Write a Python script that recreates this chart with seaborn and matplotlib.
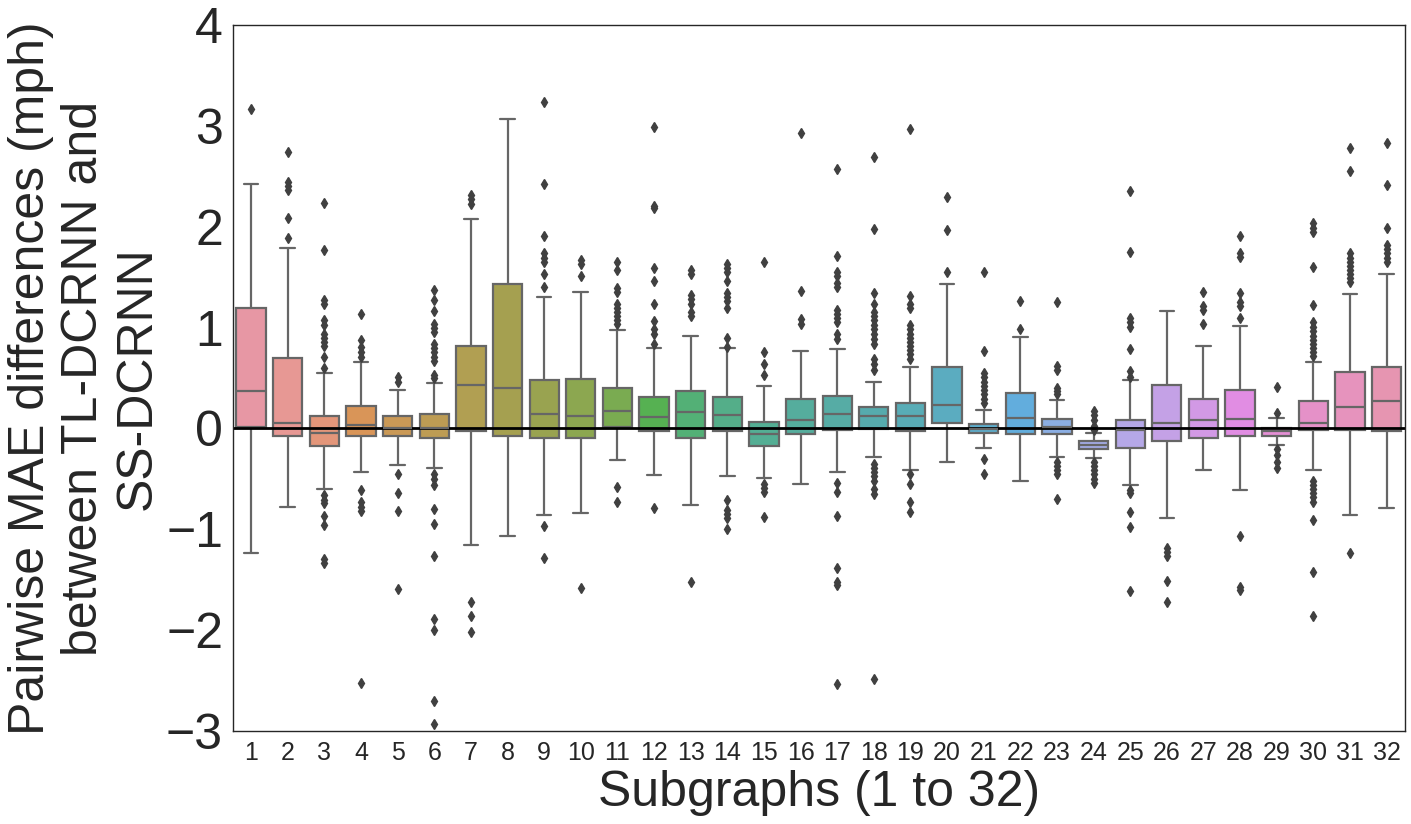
import matplotlib
matplotlib.use("Agg")
import matplotlib.pyplot as plt
import numpy as np
import pandas as pd
import seaborn as sns

# box statistics, one entry per subgraph 1..32
subgraphs = [str(i) for i in range(1, 33)]
q1 = [0.013, -0.071, -0.179, -0.079, -0.079, -0.092, -0.03, -0.071,
      -0.092, -0.092, 0.017, -0.029, -0.092, -0.021, -0.171, -0.058,
      -0.017, -0.008, -0.025, 0.058, -0.05, -0.058, -0.06, -0.2,
      -0.192, -0.129, -0.092, -0.079, -0.071, -0.017, -0.02, -0.021]
medians = [0.367, 0.058, -0.046, 0.029, 0.0, 0.008, 0.43, 0.396,
           0.138, 0.125, 0.175, 0.117, 0.167, 0.13, -0.058, 0.083,
           0.146, 0.125, 0.121, 0.229, -0.008, 0.108, 0.017, -0.167,
           -0.017, 0.058, 0.083, 0.092, -0.025, 0.058, 0.209, 0.275]
q3 = [1.19, 0.70, 0.125, 0.225, 0.125, 0.138, 0.82, 1.435,
      0.476, 0.49, 0.405, 0.309, 0.375, 0.309, 0.067, 0.296,
      0.321, 0.209, 0.254, 0.613, 0.046, 0.355, 0.095, -0.129,
      0.079, 0.43, 0.288, 0.384, 0.008, 0.267, 0.56, 0.613]
whisker_low = [-1.24, -0.776, -0.605, -0.43, -0.359, -0.392, -1.16, -1.07,
               -0.86, -0.834, -0.309, -0.46, -0.755, -0.476, -0.488, -0.55,
               -0.43, -0.288, -0.417, -0.338, -0.19, -0.517, -0.285, -0.296,
               -0.56, -0.893, -0.417, -0.613, -0.167, -0.409, -0.86, -0.793]
whisker_high = [2.42, 1.79, 0.547, 0.663, 0.384, 0.455, 2.08, 3.07,
                1.306, 1.35, 0.98, 0.80, 0.92, 0.80, 0.42, 0.77,
                0.79, 0.463, 0.613, 1.435, 0.18, 0.91, 0.285, -0.042,
                0.476, 1.168, 0.82, 1.018, 0.108, 0.663, 1.335, 1.535]
outliers = [
    [3.17],
    [2.74, 2.44, 2.40, 2.36, 2.09, 1.89],
    [2.23, 1.77, 1.27, 1.23, 1.07, 1.03, 0.94, 0.90, 0.86, 0.82, 0.71, 0.60,
     -0.66, -0.71, -0.74, -0.87, -0.96, -1.29, -1.33],
    [1.13, 0.88, 0.805, 0.76, 0.71, -0.61, -0.73, -0.78, -0.82, -2.52],
    [0.505, 0.463, -0.455, -0.64, -0.82, -1.59],
    [1.37, 1.27, 1.16, 1.04, 1.00, 0.955, 0.84, 0.80, 0.755, 0.71, 0.67, 0.525, 0.496,
     -0.45, -0.50, -0.56, -0.80, -0.95, -1.27, -1.89, -2.0, -2.70, -2.93],
    [2.31, 2.27, 2.22, -1.72, -1.86, -2.02],
    [],
    [3.24, 2.42, 1.91, 1.74, 1.69, 1.65, 1.53, 1.40, -0.97, -1.285],
    [1.67, 1.63, 1.51, -1.58],
    [1.65, 1.57, 1.39, 1.35, 1.235, 1.19, 1.15, 1.11, 1.07, 1.04, -0.58, -0.726],
    [2.99, 2.21, 2.19, 1.59, 1.46, 1.23, 1.06, 0.985, 0.94, 0.84, -0.79],
    [1.57, 1.53, 1.32, 1.28, 1.235, 1.15, 1.11, -1.52],
    [1.63, 1.59, 1.55, 1.46, 1.34, 1.30, 1.26, 1.19, 0.90, 0.81,
     -0.705, -0.81, -0.85, -0.89, -1.0],
    [1.65, 0.755, 0.64, 0.534, -0.55, -0.59, -0.63, -0.876],
    [2.93, 1.36, 1.08, 1.04],
    [2.57, 1.71, 1.55, 1.51, 1.44, 1.40, 1.17, 1.13, 1.09, 1.05, 0.94, 0.89,
     -0.54, -0.634, -0.868, -1.385, -1.52, -1.55, -2.53],
    [2.695, 1.98, 1.34, 1.235, 1.15, 1.11, 1.07, 1.03, 0.985, 0.94, 0.89, 0.84, 0.69, 0.64, 0.575,
     -0.35, -0.39, -0.434, -0.476, -0.517, -0.60, -0.65, -2.48],
    [2.97, 1.31, 1.235, 1.19, 1.03, 0.985, 0.94, 0.90, 0.86, 0.82, 0.776, 0.734, 0.69,
     -0.45, -0.547, -0.726, -0.83],
    [2.29, 1.97, 1.55],
    [1.55, 0.77, 0.547, 0.505, 0.463, 0.42, 0.38, 0.338, 0.296, 0.254, -0.30, -0.45],
    [1.26, 0.985],
    [1.25, 0.617, 0.576, 0.40, 0.37, 0.34, -0.33, -0.37, -0.41, -0.455, -0.70],
    [0.171, 0.129, 0.088, 0.025, -0.017, -0.33, -0.37, -0.41, -0.455, -0.50, -0.54],
    [2.35, 1.75, 1.09, 1.05, 1.005, 0.79, 0.567, 0.505, -0.61, -0.64, -0.83, -0.976, -1.61],
    [-1.185, -1.23, -1.27, -1.51, -1.72],
    [1.35, 1.21, 1.17, 1.035],
    [1.91, 1.735, 1.70, 1.34, 1.255, 1.21, 1.09, -1.07, -1.57, -1.60],
    [0.41, 0.15, -0.204, -0.267, -0.33, -0.39],
    [2.036, 1.986, 1.944, 1.60, 1.22, 1.05, 1.005, 0.964, 0.92, 0.88, 0.84, 0.80, 0.755, 0.713,
     -0.517, -0.56, -0.60, -0.64, -0.684, -0.726, -0.91, -1.42, -1.86],
    [2.78, 2.55, 1.74, 1.69, 1.65, 1.61, 1.57, 1.53, 1.49, 1.45, -1.235],
    [2.83, 2.415, 1.986, 1.82, 1.78, 1.735, 1.69, 1.65],
]

# rebuild a sample per subgraph whose quartiles/whiskers match the stats above
block = 60
rows = []
for i, name in enumerate(subgraphs):
    vals = ([whisker_low[i]] + [q1[i]] * block + [medians[i]] * block
            + [q3[i]] * block + [whisker_high[i]] + outliers[i])
    for v in vals:
        rows.append((name, v))
df = pd.DataFrame(rows, columns=["subgraph", "diff"])

sns.set_style("white")
plt.rcParams["font.family"] = ["Liberation Sans", "DejaVu Sans"]

fig, ax = plt.subplots(figsize=(14.11, 8.24), dpi=100)
sns.boxplot(data=df, x="subgraph", y="diff", hue="subgraph", order=subgraphs,
            palette=sns.husl_palette(32, l=0.7, s=0.85), saturation=0.75, legend=False,
            linewidth=1.6, linecolor="0.4", width=0.8, ax=ax,
            flierprops=dict(marker="d", markersize=5, markerfacecolor="0.25",
                            markeredgecolor="0.25"))
ax.axhline(0, color="black", linewidth=2)

ax.set_ylim(-3, 4)
ax.set_yticks(range(-3, 5))
ax.tick_params(axis="y", labelsize=36)
ax.tick_params(axis="x", labelsize=18)
ax.set_xlabel("Subgraphs (1 to 32)", fontsize=36)
ax.set_ylabel("Pairwise MAE differences (mph)\nbetween TL-DCRNN and\nSS-DCRNN", fontsize=36)
for s in ax.spines.values():
    s.set_color("0.15")
    s.set_linewidth(1.0)

fig.subplots_adjust(left=0.165, right=0.9957, top=0.9697, bottom=0.1129)
fig.savefig("out.png", dpi=100)
